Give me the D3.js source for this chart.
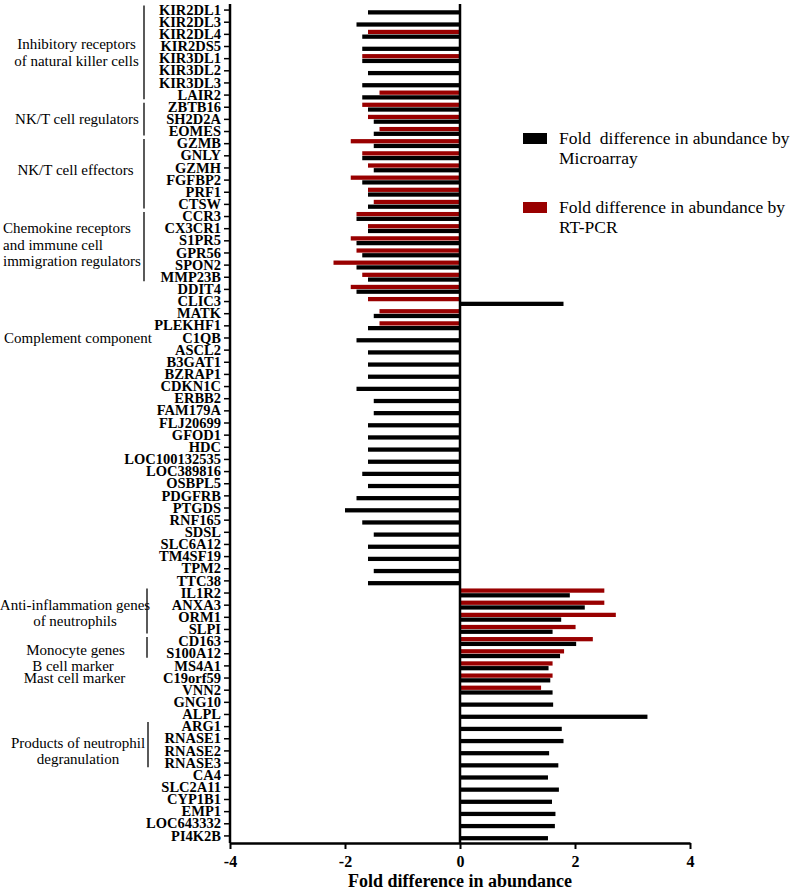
<!DOCTYPE html>
<html>
<head>
<meta charset="utf-8">
<script src="https://cdn.jsdelivr.net/npm/d3@7"></script>
<style>
  html, body { margin: 0; padding: 0; background: #fff; }
  svg { display: block; }
</style>
</head>
<body>
<svg id="chart" width="796" height="893" font-family="'Liberation Serif', 'Times New Roman', serif"></svg>
<script>
// ---------------- data ----------------
const genes = ["KIR2DL1","KIR2DL3","KIR2DL4","KIR2DS5","KIR3DL1","KIR3DL2","KIR3DL3","LAIR2",
  "ZBTB16","SH2D2A","EOMES","GZMB","GNLY","GZMH","FGFBP2","PRF1","CTSW","CCR3","CX3CR1",
  "S1PR5","GPR56","SPON2","MMP23B","DDIT4","CLIC3","MATK","PLEKHF1","C1QB","ASCL2","B3GAT1",
  "BZRAP1","CDKN1C","ERBB2","FAM179A","FLJ20699","GFOD1","HDC","LOC100132535","LOC389816",
  "OSBPL5","PDGFRB","PTGDS","RNF165","SDSL","SLC6A12","TM4SF19","TPM2","TTC38","IL1R2",
  "ANXA3","ORM1","SLPI","CD163","S100A12","MS4A1","C19orf59","VNN2","GNG10","ALPL","ARG1",
  "RNASE1","RNASE2","RNASE3","CA4","SLC2A11","CYP1B1","EMP1","LOC643332","PI4K2B"];

const microarray = [-1.6,-1.8,-1.7,-1.7,-1.7,-1.6,-1.7,-1.7,
  -1.6,-1.5,-1.5,-1.5,-1.7,-1.5,-1.7,-1.6,-1.6,-1.8,-1.6,
  -1.8,-1.7,-1.8,-1.6,-1.8,1.8,-1.5,-1.6,-1.8,-1.6,-1.6,
  -1.6,-1.8,-1.5,-1.5,-1.6,-1.6,-1.6,-1.6,-1.7,
  -1.6,-1.8,-2.0,-1.7,-1.5,-1.6,-1.6,-1.5,-1.6,1.91,
  2.17,1.76,1.61,2.02,1.74,1.54,1.57,1.61,1.62,3.26,1.77,
  1.80,1.55,1.71,1.53,1.72,1.60,1.66,1.65,1.53];

const rtpcr = [null,null,-1.6,null,-1.7,null,null,-1.4,
  -1.7,-1.6,-1.4,-1.9,-1.7,-1.6,-1.9,-1.6,-1.5,-1.8,-1.6,
  -1.9,-1.8,-2.2,-1.7,-1.9,-1.6,-1.4,-1.4,null,null,null,
  null,null,null,null,null,null,null,null,null,
  null,null,null,null,null,null,null,null,null,2.51,
  2.51,2.71,2.01,2.31,1.81,1.61,1.61,1.41,null,null,null,
  null,null,null,null,null,null,null,null,null];

const xTicks = [-4,-2,0,2,4];
const seriesNames = ["RT-PCR","Microarray"];
const legendLabels = ["Fold  difference in abundance by\nMicroarray", "Fold difference in abundance by\nRT-PCR"];
const xTitle = "Fold difference in abundance";

// annotation groups: text lines, first gene, last gene
const groupTexts = [
  ["Inhibitory receptors","of natural killer cells"],
  ["NK/T cell regulators"],
  ["NK/T cell effectors"],
  ["Chemokine receptors","and immune cell","immigration regulators"],
  ["Complement component"],
  ["Anti-inflammation genes","of neutrophils"],
  ["Monocyte genes"],
  ["B cell marker"],
  ["Mast cell marker"],
  ["Products of neutrophil","degranulation"]
];
const groupRanges = [
  ["KIR2DL1","LAIR2"],["ZBTB16","EOMES"],["GZMB","CTSW"],["CCR3","MMP23B"],["C1QB","C1QB"],
  ["IL1R2","SLPI"],["CD163","S100A12"],["MS4A1","MS4A1"],["C19orf59","C19orf59"],["ARG1","RNASE3"]
];

// layout for annotations (not data)
const groupLayout = [
  {x:76.5, anchor:"middle", line:144, dy:0},
  {x:77, anchor:"middle", line:144, dy:0},
  {x:75.5, anchor:"middle", line:144, dy:-4},
  {x:3, anchor:"start", line:144, dy:-2},
  {x:4, anchor:"start", line:null, dy:0},
  {x:75, anchor:"middle", line:147, dy:2},
  {x:75.5, anchor:"middle", line:147, dy:2},
  {x:73, anchor:"middle", line:null, dy:0},
  {x:74.5, anchor:"middle", line:null, dy:0},
  {x:78, anchor:"middle", line:148, dy:6}
];

const colors = {"Microarray":"#000000", "RT-PCR":"#990000"};
const FONT = "'Liberation Serif', 'Times New Roman', serif";

// ---------------- chart ----------------
const svg = d3.select("#chart");

const x = d3.scaleLinear().domain([-4, 4]).range([230, 690]);
const y = d3.scaleBand().domain(genes).range([4, 842]);
const sub = d3.scaleBand().domain(seriesNames).range([1.5, 10.5]).paddingInner(0.1);

const rows = genes.map((g, i) => ({gene: g, "Microarray": microarray[i], "RT-PCR": rtpcr[i]}));

const barsG = svg.append("g");
seriesNames.forEach(s => {
  barsG.selectAll(null)
    .data(rows.filter(r => r[s] !== null))
    .enter().append("rect")
    .attr("x", d => x(Math.min(0, d[s])))
    .attr("width", d => Math.abs(x(d[s]) - x(0)))
    .attr("y", d => y(d.gene) + sub(s))
    .attr("height", sub.bandwidth())
    .attr("fill", colors[s]);
});

// zero line
svg.append("line")
  .attr("x1", x(0)).attr("x2", x(0))
  .attr("y1", y.range()[0]).attr("y2", 843)
  .attr("stroke", "#000").attr("stroke-width", 2.5);

// y axis
const yAxis = svg.append("g")
  .attr("transform", `translate(${x(-4)},0)`)
  .call(d3.axisLeft(y).tickSize(6).tickSizeOuter(0).tickPadding(3));
yAxis.attr("font-family", FONT);
yAxis.select(".domain").attr("stroke-width", 2.5).attr("d", `M0,${y.range()[0]}V843`);
yAxis.selectAll(".tick line").attr("stroke-width", 1.5);
yAxis.selectAll(".tick text")
  .attr("font-family", FONT)
  .attr("font-weight", "bold").attr("font-size", "14.5px").attr("fill", "#000");

// x axis
const xAxis = svg.append("g")
  .attr("transform", "translate(0,843)")
  .call(d3.axisBottom(x).tickValues(xTicks).tickFormat(d => String(d)).tickSize(6).tickSizeOuter(0).tickPadding(7));
xAxis.attr("font-family", FONT);
xAxis.select(".domain").attr("stroke-width", 2.5);
xAxis.selectAll(".tick line").attr("stroke-width", 2);
xAxis.selectAll(".tick text")
  .attr("font-family", FONT)
  .attr("font-weight", "bold").attr("font-size", "16px").attr("fill", "#000");

svg.append("text")
  .attr("x", x(0)).attr("y", 887)
  .attr("text-anchor", "middle")
  .attr("font-family", FONT)
  .attr("font-weight", "bold").attr("font-size", "18px")
  .text(xTitle);

// group annotations
const lineH = 16.5;
groupTexts.forEach((lines, i) => {
  const [g0, g1] = groupRanges[i];
  const L = groupLayout[i];
  const top = y(g0), bot = y(g1) + y.bandwidth();
  const c = (top + bot) / 2 + L.dy;
  const t = svg.append("text")
    .attr("text-anchor", L.anchor)
    .attr("font-family", FONT)
    .attr("font-size", "15px").attr("fill", "#000");
  lines.forEach((ln, j) => {
    t.append("tspan")
      .attr("x", L.x)
      .attr("y", c + (j - (lines.length - 1) / 2) * lineH + 5)
      .text(ln);
  });
  if (L.line !== null) {
    svg.append("line")
      .attr("x1", L.line).attr("x2", L.line)
      .attr("y1", top + 1.5).attr("y2", bot - 2)
      .attr("stroke", "#000").attr("stroke-width", 1.3);
  }
});

// legend
const legendY = [133, 202];
const legendSeries = ["Microarray", "RT-PCR"];
legendSeries.forEach((s, i) => {
  svg.append("rect")
    .attr("x", 523).attr("y", legendY[i])
    .attr("width", 24).attr("height", 11)
    .attr("fill", colors[s]);
  const t = svg.append("text")
    .attr("font-family", FONT)
    .attr("font-size", "17.5px").attr("fill", "#000")
    .attr("xml:space", "preserve")
    .style("white-space", "pre");
  legendLabels[i].split("\n").forEach((ln, j) => {
    t.append("tspan").attr("x", 559).attr("y", legendY[i] + 11 + j * 20).text(ln);
  });
});
</script>
</body>
</html>
